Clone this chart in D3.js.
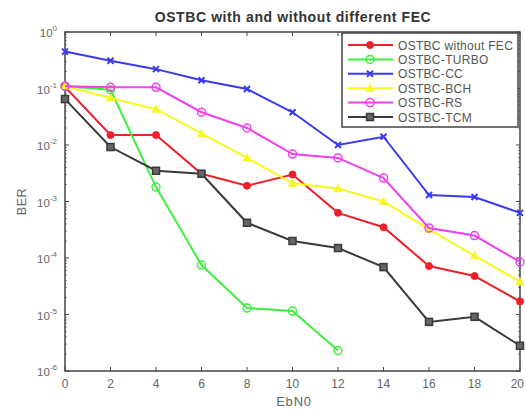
<!DOCTYPE html>
<html>
<head>
<meta charset="utf-8">
<script src="https://cdn.jsdelivr.net/npm/d3@7"></script>
<style>
  body { margin: 0; background: #fff; }
  text { font-family: "Liberation Sans", Arial, sans-serif; }
</style>
</head>
<body>
<div id="chart"></div>
<script>
// data
var ebn0 = [0, 2, 4, 6, 8, 10, 12, 14, 16, 18, 20];
var xTicks = [0, 2, 4, 6, 8, 10, 12, 14, 16, 18, 20];
var yExps = [0, -1, -2, -3, -4, -5, -6];

var berNoFec = [0.107, 0.015, 0.015, 0.0031, 0.0019, 0.003, 0.00063, 0.00035, 7.2e-5, 4.8e-5, 1.7e-5];
var berTurbo = [0.11, 0.095, 0.0018, 7.5e-5, 1.3e-5, 1.15e-5, 2.3e-6];
var berCC = [0.45, 0.31, 0.22, 0.14, 0.098, 0.038, 0.01, 0.014, 0.0013, 0.0012, 0.00063];
var berBCH = [0.11, 0.068, 0.043, 0.016, 0.0059, 0.0021, 0.0017, 0.001, 0.00032, 0.00011, 3.8e-5];
var berRS = [0.11, 0.105, 0.105, 0.038, 0.02, 0.0069, 0.0059, 0.0026, 0.00034, 0.00025, 8.5e-5];
var berTCM = [0.065, 0.0092, 0.0035, 0.0031, 0.00042, 0.0002, 0.00015, 6.9e-5, 7.4e-6, 9.1e-6, 2.8e-6];

var seriesNames = ["OSTBC without FEC", "OSTBC-TURBO", "OSTBC-CC", "OSTBC-BCH", "OSTBC-RS", "OSTBC-TCM"];
var seriesValues = [berNoFec, berTurbo, berCC, berBCH, berRS, berTCM];
var seriesColors = ["#f0202a", "#40ee40", "#3a3af0", "#f8f820", "#f040f0", "#3a3a3a"];
var seriesMarkers = ["dot", "circle", "x", "tri", "circle", "square"];

var width = 525, height = 411;
var margin = {left: 65, top: 32, right: 5, bottom: 40};

var svg = d3.select("#chart").append("svg")
    .attr("width", width)
    .attr("height", height);

var x = d3.scaleLinear()
    .domain([0, 20])
    .range([margin.left, width - margin.right]);

var y = d3.scaleLog()
    .domain([1e-6, 1])
    .range([height - margin.bottom, margin.top]);

var axisColor = "#444";
var labelColor = "#666";

//frame
svg.append("rect")
    .attr("x", x(0)).attr("y", y(1))
    .attr("width", x(20) - x(0)).attr("height", y(1e-6) - y(1))
    .attr("fill", "#fff")
    .attr("stroke", axisColor)
    .attr("stroke-width", 1.5);

//x ticks (bottom and top)
xTicks.forEach(function (t, i) {
    svg.append("line")
        .attr("x1", x(t)).attr("x2", x(t))
        .attr("y1", y(1e-6)).attr("y2", y(1e-6) - 4)
        .attr("stroke", axisColor);
    svg.append("line")
        .attr("x1", x(t)).attr("x2", x(t))
        .attr("y1", y(1)).attr("y2", y(1) + 4)
        .attr("stroke", axisColor);
    // last label would run off the page, so pin it to the right edge
    var last = i === xTicks.length - 1;
    svg.append("text")
        .attr("x", last ? width - 1 : x(t)).attr("y", y(1e-6) + 17)
        .attr("text-anchor", last ? "end" : "middle")
        .attr("font-size", "12px")
        .attr("fill", labelColor)
        .text(t);
});

//y ticks, major and minor
yExps.forEach(function (e) {
    var v = Math.pow(10, e);
    [x(0), x(20)].forEach(function (px, i) {
        var dir = i === 0 ? 1 : -1;
        svg.append("line")
            .attr("x1", px).attr("x2", px + dir * 4)
            .attr("y1", y(v)).attr("y2", y(v))
            .attr("stroke", axisColor);
        if (e > -6) {
            for (var m = 2; m < 10; m++) {
                var mv = m * Math.pow(10, e - 1);
                svg.append("line")
                    .attr("x1", px).attr("x2", px + dir * 2)
                    .attr("y1", y(mv)).attr("y2", y(mv))
                    .attr("stroke", axisColor)
                    .attr("stroke-width", 0.6);
            }
        }
    });
    var lbl = svg.append("text")
        .attr("x", x(0) - 8).attr("y", y(v) + 5)
        .attr("text-anchor", "end")
        .attr("font-size", "11.5px")
        .attr("fill", labelColor);
    lbl.append("tspan").text("10");
    lbl.append("tspan").attr("dy", -6).attr("font-size", "8px").text(e);
});

//title and axis labels
svg.append("text")
    .attr("x", 293).attr("y", 22)
    .attr("text-anchor", "middle")
    .attr("font-size", "14px")
    .attr("font-weight", "bold")
    .attr("letter-spacing", "0.6px")
    .attr("fill", "#333")
    .text("OSTBC with and without different FEC");

svg.append("text")
    .attr("x", 294).attr("y", 406)
    .attr("text-anchor", "middle")
    .attr("font-size", "13px")
    .attr("letter-spacing", "0.8px")
    .attr("fill", labelColor)
    .text("EbN0");

svg.append("text")
    .attr("transform", "translate(26," + y(1e-3) + ") rotate(-90)")
    .attr("text-anchor", "middle")
    .attr("font-size", "12.5px")
    .attr("letter-spacing", "0.6px")
    .attr("fill", labelColor)
    .text("BER");

var line = d3.line()
    .x(function (d, i) { return x(ebn0[i]); })
    .y(function (d) { return y(d); });

function drawMarker(g, kind, cx, cy, color) {
    if (kind === "dot") {
        g.append("circle").attr("cx", cx).attr("cy", cy).attr("r", 3.5)
            .attr("fill", color).attr("stroke", color);
    } else if (kind === "circle") {
        g.append("circle").attr("cx", cx).attr("cy", cy).attr("r", 4)
            .attr("fill", "none").attr("stroke", color).attr("stroke-width", 1.5);
    } else if (kind === "x") {
        g.append("path")
            .attr("d", "M" + (cx - 3) + "," + (cy - 3) + "L" + (cx + 3) + "," + (cy + 3) +
                "M" + (cx - 3) + "," + (cy + 3) + "L" + (cx + 3) + "," + (cy - 3))
            .attr("stroke", color).attr("stroke-width", 2);
    } else if (kind === "tri") {
        g.append("path")
            .attr("d", "M" + cx + "," + (cy - 4) + "L" + (cx + 4) + "," + (cy + 3) + "L" + (cx - 4) + "," + (cy + 3) + "Z")
            .attr("fill", color).attr("stroke", color);
    } else if (kind === "square") {
        g.append("rect").attr("x", cx - 3.5).attr("y", cy - 3.5)
            .attr("width", 7).attr("height", 7)
            .attr("fill", "#666").attr("stroke", color).attr("stroke-width", 1.5);
    }
}

//series
seriesValues.forEach(function (vals, s) {
    var g = svg.append("g");
    g.append("path")
        .attr("d", line(vals))
        .attr("fill", "none")
        .attr("stroke", seriesColors[s])
        .attr("stroke-width", 2);
    vals.forEach(function (v, i) {
        drawMarker(g, seriesMarkers[s], x(ebn0[i]), y(v), seriesColors[s]);
    });
});

//legend
var legend = svg.append("g");
legend.append("rect")
    .attr("x", 342).attr("y", 33)
    .attr("width", 176).attr("height", 94)
    .attr("fill", "#fff")
    .attr("stroke", "#444")
    .attr("stroke-width", 1.5);

seriesNames.forEach(function (name, s) {
    var ly = 45 + s * 14.4;
    legend.append("line")
        .attr("x1", 348).attr("x2", 393)
        .attr("y1", ly).attr("y2", ly)
        .attr("stroke", seriesColors[s])
        .attr("stroke-width", 2);
    drawMarker(legend, seriesMarkers[s], 370, ly, seriesColors[s]);
    legend.append("text")
        .attr("x", 398).attr("y", ly + 4.5)
        .attr("font-size", "12px")
        .attr("letter-spacing", "0.3px")
        .attr("fill", "#555")
        .text(name);
});
</script>
</body>
</html>
